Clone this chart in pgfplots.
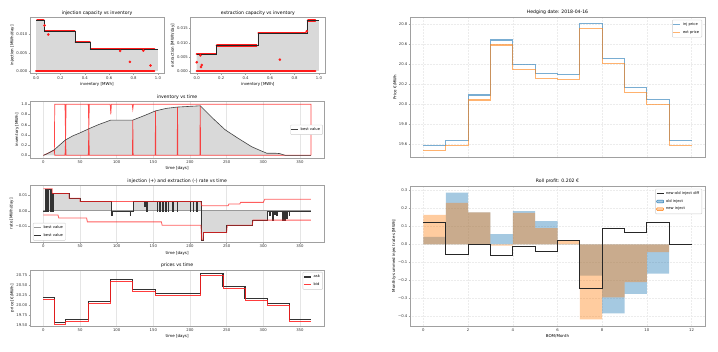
\documentclass[border=0pt]{standalone}
\usepackage{pgfplots}
\pgfplotsset{compat=1.18}
\usepackage{pgfplotstable}
\usepackage{fontspec}
\setmainfont{DejaVu Sans}
\definecolor{tabblue}{HTML}{1F77B4}
\definecolor{taborange}{HTML}{FF7F0E}
\definecolor{fillgray}{HTML}{D9D9D9}
\definecolor{mred}{HTML}{FF1A1A}
\definecolor{framegray}{HTML}{A0A0A0}

\pgfplotsset{
  every axis/.append style={
    scale only axis, anchor=south west,
    axis line style={framegray, line width=0.6pt},
    tick style={framegray, line width=0.3pt},
    major tick length=1.5pt, tick align=outside,
    xtick pos=bottom, ytick pos=left,
    tick label style={font=\fontsize{3.8}{4.2}\selectfont, text=black!80},
    label style={font=\fontsize{4.0}{4.6}\selectfont},
    title style={font=\fontsize{4.6}{5.2}\selectfont, inner sep=1.2pt, yshift=-5pt},
    /pgf/number format/assume math mode=true,
    scaled ticks=false,
    xticklabel style={inner sep=1pt},
    yticklabel style={inner sep=1pt},
    xlabel style={inner sep=1pt, yshift=-1pt},
    ylabel style={inner sep=1pt},
    legend style={font=\fontsize{3.7}{4.3}\selectfont, draw=gray!40, rounded corners=0.8pt,
      inner sep=0.6pt, row sep=-0.6pt, cells={anchor=west}},
    legend image code/.code={\draw[#1] (0pt,0pt) -- (7pt,0pt);},
  },
  timeaxis/.style={
    xmin=-18.25, xmax=383.25, xtick={0,50,100,150,200,250,300,350},
    xmajorgrids, major grid style={gray!20, line width=0.4pt},
    xlabel={time [days]},
  },
}

% inventory-vs-time data
\pgfplotstableread{
t v
0 0
5 0.03
10 0.07
15 0.11
22 0.2
30 0.3
40 0.38
50 0.44
62 0.52
75 0.6
92 0.69
122 0.69
138 0.78
153 0.87
168 0.92
183 0.945
214 0.97
230 0.74
248 0.5
265 0.34
284 0.17
295 0.1
305 0.04
318 0.04
322 0.035
330 0.0
365 0.0
}\invdata

% rate best value
\pgfplotstableread{
t r
0 0
2 0
2 0.014
4 0.014
4 0
5 0
5 0.014
6 0.014
6 0
7 0
7 0.014
9 0.014
9 0
10 0
10 0.014
11 0.014
11 0
12 0
12 0.011
13 0.011
13 0
14 0
14 0.011
35 0.011
35 0.008
50 0.008
50 0.006
92 0.006
92 0
93 0
93 -0.003
94 -0.003
94 0
118 0
118 -0.003
119 -0.003
119 0
123 0
123 0.006
138 0.006
138 0.003
139 0.003
139 0.006
141 0.006
141 0
142 0
142 0.006
155 0.006
155 0
156 0
156 0.006
158 0.006
158 0
159 0
159 0.006
162 0.006
162 0
163 0
163 0.006
166 0.006
166 0
167 0
167 0.006
170 0.006
170 0
171 0
171 0.006
176 0.006
176 0
177 0
177 0.006
182 0.006
182 0
183 0
183 0.006
200 0.006
200 0
201 0
201 0.006
204 0.006
204 0
205 0
205 0.006
209 0.006
209 0
210 0
210 0.006
215 0.006
215 -0.0185
218 -0.0185
218 -0.0138
250 -0.0138
250 -0.0091
285 -0.0091
285 -0.0059
305 -0.0059
305 0
308 0
308 -0.003
309 -0.003
309 0
312 0
312 -0.006
313 -0.006
313 0
315 0
315 -0.002
316 -0.002
316 0
318 0
318 -0.003
319 -0.003
319 0
326 0
326 -0.006
327 -0.006
327 0
329 0
329 -0.006
330 -0.006
330 0
332 0
332 -0.005
333 -0.005
333 0
335 0
335 -0.003
336 -0.003
336 0
365 0
}\ratedata

% ask and bid prices
\pgfplotstableread{
t ask bid
0 20.20 20.15
15.5 20.20 20.15
15.5 19.57 19.52
30.5 19.57 19.52
30.5 19.63 19.58
62 19.63 19.58
62 20.09 20.04
92 20.09 20.04
92 20.64 20.59
122 20.64 20.59
122 20.39 20.34
153 20.39 20.34
153 20.30 20.25
183 20.30 20.25
183 20.29 20.24
214 20.29 20.24
214 20.80 20.75
245 20.80 20.75
245 20.46 20.41
275 20.46 20.41
275 20.17 20.12
306 20.17 20.12
306 20.04 19.99
336 20.04 19.99
336 19.63 19.58
365 19.63 19.58
}\pricedata

\begin{document}
\begin{tikzpicture}
\useasboundingbox (0,0) rectangle (718pt,351pt);

%================ injection capacity vs inventory
\begin{axis}[at={(30pt,277.5pt)}, width=134pt, height=56pt,
  xmin=-0.05, xmax=1.05, ymin=-0.0007, ymax=0.0147,
  xtick={0,0.2,0.4,0.6,0.8,1}, ytick={0,0.005,0.01},
  xticklabel style={/pgf/number format/.cd,fixed,fixed zerofill,precision=1},
  yticklabel style={/pgf/number format/.cd,fixed,fixed zerofill,precision=3},
  title={injection capacity vs inventory}, xlabel={inventory [MWh]}, ylabel={injection [MWh/day]}]
\addplot[fill=fillgray, draw=none] coordinates {(0,0)(0,0.014)(0.065,0.014)(0.065,0.011)(0.32,0.011)(0.32,0.008)(0.445,0.008)(0.445,0.006)(1.0,0.006)(1.0,0)} -- cycle;
\addplot[mred, line width=2.4pt, line cap=round] coordinates {(0.01,0.014)(0.06,0.014)};
\addplot[mred, line width=2.4pt, line cap=round] coordinates {(0.075,0.011)(0.315,0.011)};
\addplot[mred, line width=2.4pt, line cap=round] coordinates {(0.325,0.008)(0.44,0.008)};
\addplot[mred, line width=2.4pt, line cap=round] coordinates {(0.45,0.006)(0.97,0.006)};
\addplot[mred, line width=2.4pt, line cap=round] coordinates {(0.0,0)(0.97,0)};
\addplot[only marks, mark=*, mark size=1.1pt, mred] coordinates {(0.07,0.0125)(0.1,0.0100)(0.69,0.0055)(0.77,0.0025)(0.88,0.0056)(0.94,0.0015)};
\addplot[black!85, line width=0.5pt] coordinates {(0,0.014)(0.065,0.014)(0.065,0.011)(0.32,0.011)(0.32,0.008)(0.445,0.008)(0.445,0.006)(1.0,0.006)};
\end{axis}

%================ extraction capacity vs inventory
\begin{axis}[at={(190.6pt,277.5pt)}, width=134.5pt, height=56pt,
  xmin=-0.05, xmax=1.05, ymin=-0.0009, ymax=0.0189,
  xtick={0,0.2,0.4,0.6,0.8,1}, ytick={0,0.005,0.01,0.015},
  xticklabel style={/pgf/number format/.cd,fixed,fixed zerofill,precision=1},
  yticklabel style={/pgf/number format/.cd,fixed,fixed zerofill,precision=3},
  title={extraction capacity vs inventory}, xlabel={inventory [MWh]}, ylabel={extraction [MWh/day]}]
\addplot[fill=fillgray, draw=none] coordinates {(0,0)(0,0.006)(0.16,0.006)(0.16,0.009)(0.5,0.009)(0.5,0.0135)(0.9,0.0135)(0.9,0.0178)(1.0,0.0178)(1.0,0)} -- cycle;
\addplot[mred, line width=2.4pt, line cap=round] coordinates {(0.0,0.006)(0.155,0.006)};
\addplot[mred, line width=2.4pt, line cap=round] coordinates {(0.165,0.009)(0.49,0.009)};
\addplot[mred, line width=2.4pt, line cap=round] coordinates {(0.505,0.0135)(0.89,0.0135)};
\addplot[mred, line width=2.4pt, line cap=round] coordinates {(0.91,0.0178)(0.97,0.0178)};
\addplot[mred, line width=2.4pt, line cap=round] coordinates {(0.0,0)(0.97,0)};
\addplot[only marks, mark=*, mark size=1.1pt, mred] coordinates {(0.0,0.0031)(0.03,0.0055)(0.035,0.0014)(0.042,0.0021)(0.68,0.004)(0.9,0.014)};
\addplot[black!85, line width=0.5pt] coordinates {(0,0.006)(0.16,0.006)(0.16,0.009)(0.5,0.009)(0.5,0.0135)(0.9,0.0135)(0.9,0.0178)(1.0,0.0178)};
\end{axis}

%================ inventory vs time
\begin{axis}[at={(30pt,193.1pt)}, width=294.3pt, height=56.2pt, timeaxis,
  ymin=-0.05, ymax=1.05, ytick={0,0.2,0.4,0.6,0.8,1},
  yticklabel style={/pgf/number format/.cd,fixed,fixed zerofill,precision=1},
  title={inventory vs time}, ylabel={inventory [MWh]},
  legend style={at={(0.995,0.5)}, anchor=east}]
\addplot[fill=fillgray, draw=none, forget plot] table[x=t,y=v] {\invdata} -- cycle;
\addplot[mred, opacity=0.8, line width=0.7pt, forget plot] coordinates {(0,0)(15,0.1)(15.5,1)(29.5,1)(30.3,0.3)(31,1)(61.3,1)(62,0.52)(62.7,1)(91.2,1)(92,0.8)(92.8,1)(121.2,1)(122,0.9)(122.8,1)(365,1)(365,0)};
\addplot[mred, opacity=0.8, line width=0.7pt, forget plot] coordinates {(15,0.1)(15.5,0)(29.5,0)(30.3,0.3)(31,0)(61.3,0)(62,0.52)(62.7,0)(121.5,0)(122,0.69)(122.5,0)(152.5,0)(153,0.87)(153.5,0)(182.5,0)(183,0.945)(183.5,0)(213.5,0)(214,0.97)(214.5,0)(365,0)};
\addplot[black!75, line width=0.6pt] table[x=t,y=v] {\invdata};
\addlegendentry{best value}
\end{axis}

%================ rate vs time
\begin{axis}[at={(30pt,108.7pt)}, width=294.3pt, height=56.6pt, timeaxis,
  ymin=-0.0200, ymax=0.0160, ytick={-0.01,0,0.01}, yticklabels={−0.01,0.00,0.01},
  title={injection (+) and extraction (-) rate vs time}, ylabel={rate [MWh/day]},
  legend style={at={(0.01,0.03)}, anchor=south west}]
\addplot[fill=fillgray, draw=none, forget plot] table[x=t,y=r] {\ratedata} -- cycle;
\addplot[gray!80, line width=0.9pt] coordinates {(0,0)(365,0)};
\addlegendentry{best value}
\addplot[black!80, line width=0.5pt] table[x=t,y=r] {\ratedata};
\addlegendentry{best value}
\addplot[mred, opacity=0.7, line width=0.8pt, forget plot] coordinates {(0,0.014)(12,0.014)(12,0.011)(35,0.011)(35,0.008)(50,0.008)(50,0.006)(215,0.006)(216,0.0032)(252,0.0032)(253,0.0043)(268,0.0043)(269,0.0054)(300,0.0054)(302,0.0074)(365,0.0074)};
\addplot[mred, opacity=0.7, line width=0.8pt, forget plot] coordinates {(0,-0.0027)(20,-0.0027)(21,-0.0046)(59,-0.0046)(60,-0.007)(161,-0.007)(162,-0.0091)(215,-0.0091)(216,-0.0185)(218,-0.0185)(218.5,-0.0138)(250,-0.0138)(251,-0.0091)(285,-0.0091)(286,-0.0059)(365,-0.0059)};
\end{axis}

%================ prices vs time
\begin{axis}[at={(30pt,25pt)}, width=294.3pt, height=55.7pt, timeaxis,
  ymin=19.4765, ymax=20.8735, ytick={19.5,19.75,20,20.25,20.5,20.75},
  yticklabel style={/pgf/number format/.cd,fixed,fixed zerofill,precision=2},
  title={prices vs time}, ylabel={price [€/MWh]},
  legend style={at={(0.995,0.97)}, anchor=north east}]
\addplot[black!80, line width=1.2pt] table[x=t,y=ask] {\pricedata};
\addlegendentry{ask}
\addplot[mred, opacity=0.85, line width=0.8pt] table[x=t,y=bid] {\pricedata};
\addlegendentry{bid}
\end{axis}

%================ Hedging
\begin{axis}[at={(410pt,194pt)}, width=295pt, height=140pt,
  xmin=-0.6, xmax=12.6, ymin=19.476, ymax=20.874,
  xtick={0,2,4,6,8,10,12}, xticklabels={},
  ytick={19.6,19.8,20.0,20.2,20.4,20.6,20.8},
  yticklabel style={/pgf/number format/.cd,fixed,fixed zerofill,precision=1},
  grid=major, major grid style={gray!15, line width=0.3pt, dash pattern=on 0.5pt off 1pt},
  title={Hedging date: 2018-04-16}, ylabel={Price €/MWh},
  legend style={at={(0.99,0.98)}, anchor=north east}]
\addplot[const plot, tabblue, opacity=0.6, line width=1.1pt] coordinates {(0,19.59)(1,19.637)(2,20.095)(3,20.644)(4,20.398)(5,20.308)(6,20.30)(7,20.813)(8,20.461)(9,20.168)(10,20.049)(11,19.637)(12,19.637)};
\addlegendentry{inj price}
\addplot[const plot, taborange, opacity=0.6, line width=1.1pt] coordinates {(0,19.54)(1,19.587)(2,20.045)(3,20.594)(4,20.348)(5,20.26)(6,20.25)(7,20.763)(8,20.414)(9,20.119)(10,19.996)(11,19.587)(12,19.587)};
\addlegendentry{ext price}
\end{axis}

%================ Roll profit
\begin{axis}[at={(410pt,25pt)}, width=295pt, height=140pt,
  xmin=-0.6, xmax=12.6, ymin=-0.4555, ymax=0.3255,
  xtick={0,2,4,6,8,10,12},
  ytick={-0.4,-0.3,-0.2,-0.1,0,0.1,0.2,0.3},
  yticklabels={−0.4,−0.3,−0.2,−0.1,0.0,0.1,0.2,0.3},
  grid=major, major grid style={gray!15, line width=0.3pt, dash pattern=on 0.5pt off 1pt},
  title={Roll profit: 0.202 €}, xlabel={BOM/Month}, ylabel={Monthly-summed inject rates [MWh]},
  legend style={at={(0.99,0.98)}, anchor=north east}]
\addlegendimage{black!85, line width=0.9pt}
\addlegendentry{new-old inject diff}
\addlegendimage{legend image code/.code={\fill[tabblue, fill opacity=0.4] (0pt,-1.4pt) rectangle (7pt,1.4pt);}}
\addlegendentry{old inject}
\addlegendimage{legend image code/.code={\fill[taborange, fill opacity=0.4] (0pt,-1.4pt) rectangle (7pt,1.4pt);}}
\addlegendentry{new inject}
\addplot[const plot, fill=tabblue, fill opacity=0.4, draw=none, forget plot] coordinates {(0,0)(0,0.041)(1,0.289)(2,0.178)(3,0.057)(4,0.185)(5,0.13)(6,0.002)(7,-0.174)(8,-0.385)(9,-0.276)(10,-0.163)(11,0)} -- cycle;
\addplot[const plot, fill=taborange, fill opacity=0.4, draw=none, forget plot] coordinates {(0,0)(0,0.165)(1,0.231)(2,0.178)(3,-0.007)(4,0.176)(5,0.091)(6,0.02)(7,-0.419)(8,-0.296)(9,-0.211)(10,-0.043)(11,0)} -- cycle;
\addplot[const plot, black!85, line width=0.9pt, forget plot] coordinates {(0,0.122)(1,-0.058)(2,0)(3,-0.064)(4,-0.011)(5,-0.041)(6,0.019)(7,-0.245)(8,0.089)(9,0.065)(10,0.122)(11,0)(12,0)};
\end{axis}
\end{tikzpicture}
\end{document}
